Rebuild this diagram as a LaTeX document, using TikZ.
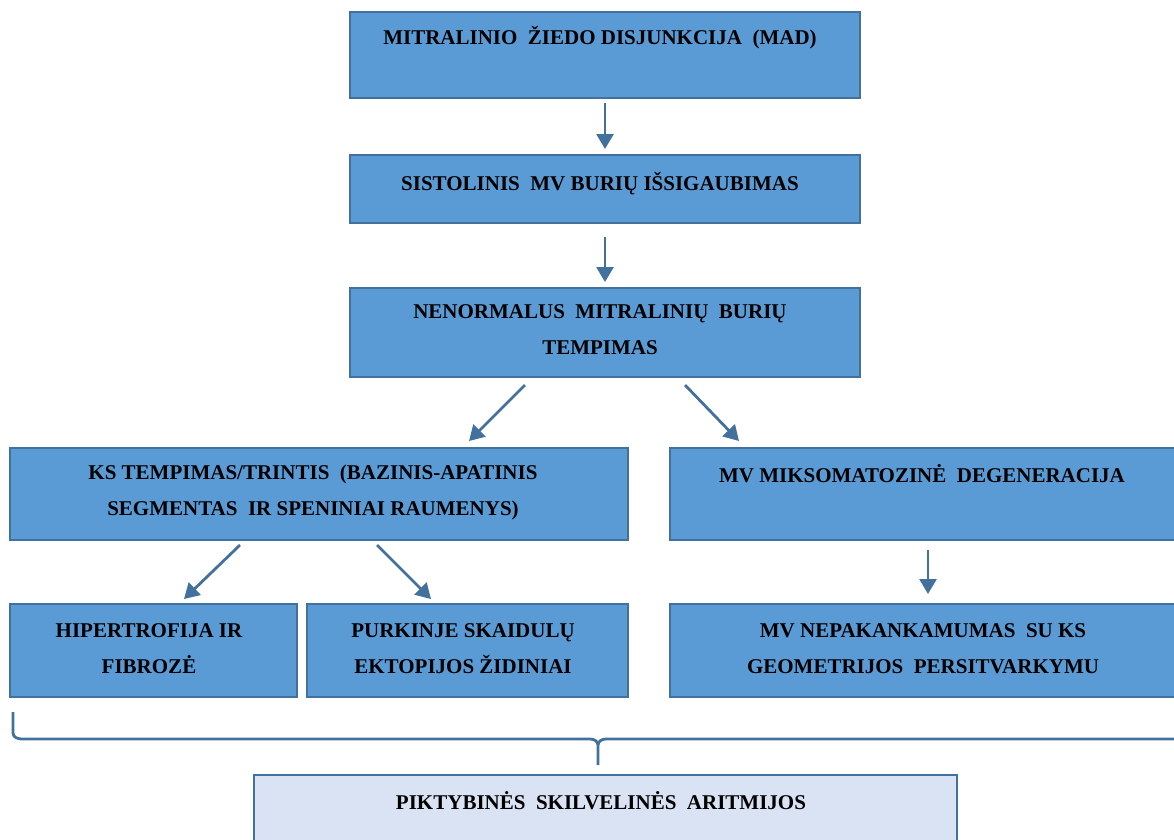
\documentclass[tikz,border=0pt]{standalone}
\usepackage{fontspec}
\setmainfont{Liberation Serif}
\usetikzlibrary{arrows.meta}
\definecolor{boxfill}{HTML}{5B9BD5}
\definecolor{boxline}{HTML}{41719C}
\definecolor{lightfill}{HTML}{DAE3F3}
\definecolor{arrowcol}{HTML}{41719C}
\tikzset{
  box/.style={draw=boxline, line width=2.4pt, fill=boxfill, inner sep=0pt},
  lightbox/.style={draw=boxline, line width=2.4pt, fill=lightfill, inner sep=0pt},
  txt/.style={font=\bfseries\fontsize{21}{36}\selectfont, align=center, inner sep=0pt, text=black},
  arr/.style={draw=arrowcol, line width=2.8pt, -{Triangle[length=15pt,width=17pt]}},
}
\begin{document}
\begin{tikzpicture}[x=1pt,y=-1pt]
\useasboundingbox (0,0) rectangle (1174,839);
% boxes
\path[box] (350,12) rectangle (860,98);
\path[box] (350,155) rectangle (860,223);
\path[box] (350,288) rectangle (860,377);
\path[box] (10,448) rectangle (628,540);
\path[box] (670,448) rectangle (1180,540);
\path[box] (10,604) rectangle (297,697);
\path[box] (307,604) rectangle (628,697);
\path[box] (670,604) rectangle (1180,697);
\path[lightbox] (254,775) rectangle (957,850);
% texts
\node[txt] (mad) at (600,38) {MITRALINIO~ ŽIEDO DISJUNKCIJA~ (MAD)};
\node[txt] (sis) at (600,184) {SISTOLINIS~ MV BURIŲ IŠSIGAUBIMAS};
\node[txt] (nen) at (600,330) {NENORMALUS~ MITRALINIŲ~ BURIŲ\\TEMPIMAS};
\node[txt] (ks) at (313,492) {KS TEMPIMAS/TRINTIS~ (BAZINIS-APATINIS\\SEGMENTAS~ IR SPENINIAI RAUMENYS)};
\node[txt] (miks) at (922,474) {MV MIKSOMATOZINĖ~ DEGENERACIJA};
\node[txt] (hip) at (149,649) {HIPERTROFIJA IR\\FIBROZĖ};
\node[txt] (pur) at (463,649) {PURKINJE SKAIDULŲ\\EKTOPIJOS ŽIDINIAI};
\node[txt] (nep) at (923,649) {MV NEPAKANKAMUMAS~ SU KS\\GEOMETRIJOS~ PERSITVARKYMU};
\node[txt] (pik) at (601,801) {PIKTYBINĖS~ SKILVELINĖS~ ARITMIJOS};
% arrows
\draw[arr] (605,103) -- (605,149);
\draw[arr] (605,237) -- (605,282);
\draw[arr] (525,385) -- (469,441);
\draw[arr] (685,385) -- (739,441);
\draw[arr] (240,545) -- (184,599);
\draw[arr] (377,545) -- (431,599);
\draw[arr] (928,550) -- (928,594);
% brace
\draw[draw=arrowcol, line width=2.8pt] (13,712) -- (13,733) to[out=-90,in=180] (22,739) -- (590,739) to[out=0,in=90] (598,745) -- (598,765);
\draw[draw=arrowcol, line width=2.8pt] (598,745) to[out=90,in=180] (606,739) -- (1180,739);
\end{tikzpicture}
\end{document}
